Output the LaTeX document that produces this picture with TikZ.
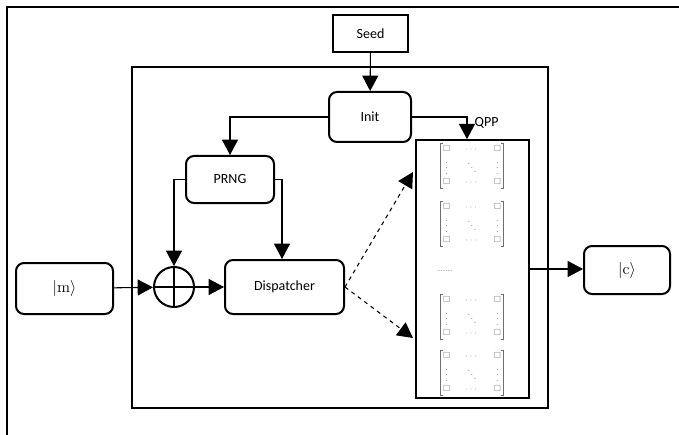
\documentclass[tikz,border=0pt]{standalone}
\usepackage{amsmath,amssymb}
\usepackage[no-math]{fontspec}
\setmainfont{Carlito}
\usepackage{tikz}
\usetikzlibrary{arrows.meta,positioning,calc}
\definecolor{QMGray}{HTML}{6E6E6E}

\newcommand{\matbody}{%
  {\fontsize{6}{8}\selectfont\setlength{\arraycolsep}{5.5pt}%
   $\begin{matrix}\square&\cdots&\square\\ \vdots&\ddots&\vdots\\ \square&\cdots&\square\end{matrix}$}}

\tikzset{
  mat/.style={text=QMGray,inner xsep=1.5pt,inner ysep=0pt},
  matline/.style={draw=QMGray,line width=0.6pt},
  pics/qmat/.style={code={
    \node[mat] (-in) {\matbody};
    \draw[matline] ([xshift=2pt]-in.north west) -- (-in.north west) -- (-in.south west) -- ([xshift=2pt]-in.south west);
    \draw[matline] ([xshift=-2pt]-in.north east) -- (-in.north east) -- (-in.south east) -- ([xshift=-2pt]-in.south east);
  }}
}

\begin{document}
\begin{tikzpicture}[
  x=0.75pt,y=-0.75pt,
  font=\fontsize{10.5}{12}\selectfont,
  blk/.style={draw,line width=1.5pt,rounded corners=6pt,align=center,inner sep=0pt},
  plain/.style={draw,line width=1.2pt,inner sep=0pt},
  ket/.style={blk,font=\fontsize{13}{15}\selectfont},
  arr/.style={-{Triangle[length=11.5pt,width=12pt]},line width=0.8pt},
  darr/.style={arr,dashed}
]
\useasboundingbox (0,0) rectangle (679,435);
\draw[line width=2.2pt] (679,7) -- (7,7) -- (7,440);
\draw[line width=2pt] (132,67) rectangle (548,408);

\node[plain,minimum width=56.25pt,minimum height=27.75pt] (seed) at (370.5,33.5) {Seed};
\node[blk,minimum width=61.5pt,minimum height=37.5pt] (init) at (370,117) {Init};
\node[blk,minimum width=66pt,minimum height=35.25pt] (prng) at (230,179.5) {PRNG};
\node[circle,draw,line width=1.5pt,minimum size=30pt,inner sep=0pt] (xor) at (174,287) {};
\node[ket,minimum width=72.75pt,minimum height=38.25pt] (msg) at (64.5,288.5) {$\lvert\mathrm{m}\rangle$};
\node[blk,minimum width=89.25pt,minimum height=40.5pt] (disp) at (284.5,287) {Dispatcher};
\node[plain,minimum width=84.75pt,minimum height=193.5pt] (qpp) at (472.5,269) {};
\node[ket,minimum width=64.5pt,minimum height=36pt] (ct) at (627,270) {$\lvert\mathrm{c}\rangle$};

\pic (m1) at (472,166) {qmat};
\pic (m2) at (472,224) {qmat};
\node[text=QMGray,inner sep=0pt,font=\tiny] (mdots) at (445,271) {.........};
\pic (m3) at (472,317) {qmat};
\pic (m4) at (472,373) {qmat};

\coordinate (qin) at (467,117);
\coordinate (ptop) at (413,172);
\coordinate (pbot) at (413,338);

\draw[line width=1pt] (xor.north) -- (xor.south);
\draw[line width=1pt] (xor.west) -- (xor.east);

\draw[arr] (seed) -- (init);
\draw[arr] (init.west) -| (prng.north);
\draw[arr] (init.east) -- (qin) -- (qin |- qpp.north);
\node[anchor=west,inner sep=1pt] (qlab) at (473,123) {QPP};
\draw[arr] (prng.west) -| (174,180) -- (xor.north);
\draw[arr] (prng.east) -| ($(disp.north)+(-2.5,0)$);
\draw[arr] (msg) -- (xor);
\draw[arr] (xor) -- (disp);
\draw[darr] (disp.east) -- (ptop);
\draw[darr] (disp.east) -- (pbot);
\draw[arr] (qpp.east) -- (qpp.east -| ct.west);
\end{tikzpicture}
\end{document}
